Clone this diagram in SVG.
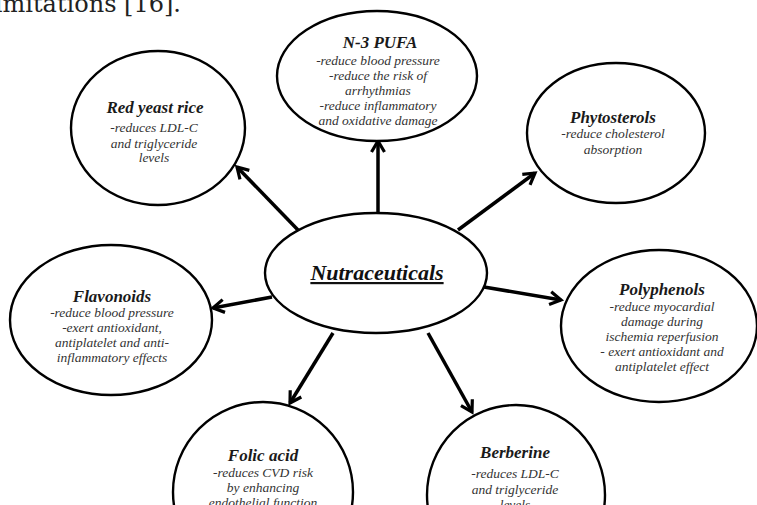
<svg xmlns="http://www.w3.org/2000/svg" width="757" height="505" viewBox="0 0 757 505">
<style>
.node ellipse{fill:#fff;stroke:#000;stroke-width:2.4}
.t{font-family:"Liberation Serif","Times New Roman",serif;font-weight:bold;font-style:italic;font-size:17px;fill:#1a1a1a;text-anchor:middle}
.b{font-family:"Liberation Serif","Times New Roman",serif;font-style:italic;font-size:13.5px;fill:#333;text-anchor:middle}
.c line{stroke:#000;stroke-width:3.5;marker-end:url(#ah)}
</style>
<defs>
<marker id="ah" markerUnits="userSpaceOnUse" viewBox="0 0 16 16" markerWidth="16" markerHeight="16" refX="13" refY="8" orient="auto">
<path d="M2,1.5 L13,8 L2,14.5" fill="none" stroke="#000" stroke-width="3.2"/>
</marker>
</defs>
<rect width="757" height="505" fill="#fff"/>
<text x="181" y="12" font-family="'DejaVu Serif',serif" font-size="24" fill="#222" text-anchor="end">limitations [16].</text>
<g class="c" id="connectors">
<line x1="378" y1="213" x2="378" y2="141"/>
<line x1="298" y1="230" x2="237" y2="167"/>
<line x1="458" y1="230" x2="535" y2="173"/>
<line x1="272" y1="297" x2="213" y2="308"/>
<line x1="484" y1="287" x2="561" y2="300"/>
<line x1="333" y1="333" x2="290" y2="403"/>
<line x1="428" y1="333" x2="472" y2="412"/>
</g>
<g class="node" id="center">
<ellipse cx="376" cy="273" rx="111" ry="60"/>
<text x="377" y="280" font-family="Liberation Serif,'Times New Roman',serif" font-weight="bold" font-style="italic" font-size="22" fill="#111" text-anchor="middle" text-decoration="underline">Nutraceuticals</text>
</g>
<g class="node" id="pufa">
<ellipse cx="377" cy="76" rx="100" ry="65"/>
<text class="t" x="380" y="48" font-size="18">N-3 PUFA</text>
<text class="b" x="378" y="65">-reduce blood pressure</text>
<text class="b" x="378" y="80">-reduce the risk of</text>
<text class="b" x="378" y="95">arrhythmias</text>
<text class="b" x="378" y="110">-reduce inflammatory</text>
<text class="b" x="378" y="125">and oxidative damage</text>
</g>
<g class="node" id="redyeast">
<ellipse cx="158" cy="128" rx="87" ry="77"/>
<text class="t" x="155" y="113">Red yeast rice</text>
<text class="b" x="154" y="132">-reduces LDL-C</text>
<text class="b" x="154" y="148">and triglyceride</text>
<text class="b" x="154" y="162">levels</text>
</g>
<g class="node" id="phyto">
<ellipse cx="616" cy="133" rx="89" ry="70"/>
<text class="t" x="613" y="123">Phytosterols</text>
<text class="b" x="613" y="138">-reduce cholesterol</text>
<text class="b" x="613" y="154">absorption</text>
</g>
<g class="node" id="flavonoids">
<ellipse cx="111" cy="320" rx="101" ry="75"/>
<text class="t" x="112" y="302">Flavonoids</text>
<text class="b" x="112" y="317">-reduce blood pressure</text>
<text class="b" x="112" y="332">-exert antioxidant,</text>
<text class="b" x="112" y="347">antiplatelet and anti-</text>
<text class="b" x="112" y="362">inflammatory effects</text>
</g>
<g class="node" id="polyphenols">
<ellipse cx="659" cy="326" rx="98" ry="76"/>
<text class="t" x="662" y="295">Polyphenols</text>
<text class="b" x="662" y="311">-reduce myocardial</text>
<text class="b" x="662" y="326">damage during</text>
<text class="b" x="662" y="341">ischemia reperfusion</text>
<text class="b" x="662" y="356">- exert antioxidant and</text>
<text class="b" x="662" y="371">antiplatelet effect</text>
</g>
<g class="node" id="folic">
<ellipse cx="263" cy="492" rx="90" ry="90"/>
<text class="t" x="263" y="461">Folic acid</text>
<text class="b" x="263" y="477">-reduces CVD risk</text>
<text class="b" x="263" y="492">by enhancing</text>
<text class="b" x="263" y="507">endothelial function</text>
</g>
<g class="node" id="berberine">
<ellipse cx="516" cy="495" rx="89" ry="90"/>
<text class="t" x="515" y="458">Berberine</text>
<text class="b" x="515" y="478">-reduces LDL-C</text>
<text class="b" x="515" y="494">and triglyceride</text>
<text class="b" x="515" y="509">levels</text>
</g>
</svg>
